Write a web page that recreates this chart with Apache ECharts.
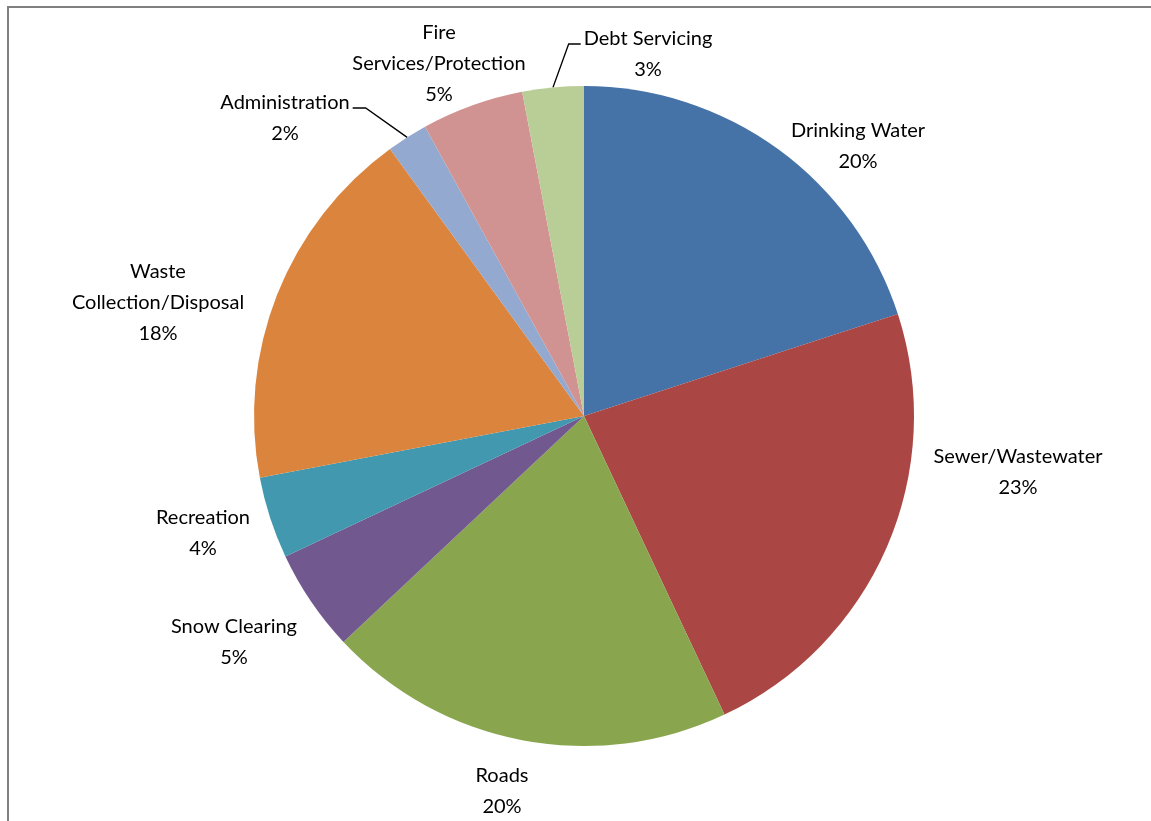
<!DOCTYPE html>
<html>
<head>
<meta charset="utf-8">
<title>Expenditure by Service</title>
<script src="https://cdn.jsdelivr.net/npm/echarts@6/dist/echarts.min.js"></script>
<style>
  html, body { margin: 0; padding: 0; background: #ffffff; }
  #chart { width: 1151px; height: 821px; }
</style>
</head>
<body>
<div id="chart"></div>
<script>
// Service categories, clockwise from 12 o'clock
const categories = [
  'Drinking Water',
  'Sewer/Wastewater',
  'Roads',
  'Snow Clearing',
  'Recreation',
  'Waste Collection/Disposal',
  'Administration',
  'Fire Services/Protection',
  'Debt Servicing'
];

// Share of spending, percent
const shares = [20, 23, 20, 5, 4, 18, 2, 5, 3];

// Label text with line breaks where the name wraps
const labelNames = [
  'Drinking Water',
  'Sewer/Wastewater',
  'Roads',
  'Snow Clearing',
  'Recreation',
  'Waste\nCollection/Disposal',
  'Administration',
  'Fire\nServices/Protection',
  'Debt Servicing'
];

const sliceColors = [
  '#4572A7', '#AA4643', '#89A54E', '#71588F', '#4198AF',
  '#DB843D', '#93A9CF', '#D19392', '#B9CD96'
];

// Label block centres (pixels)
const labelCentres = [
  [858, 146], [1018, 472], [502, 791], [234, 642], [203, 533],
  [158, 303], [285, 118], [439, 64], [648, 54]
];

// Slices whose labels are joined to the pie by a leader line
const leaderSlices = ['Administration', 'Debt Servicing'];

const chart = echarts.init(document.getElementById('chart'), null, { renderer: 'canvas' });

function sliceAnchor(idx) {
  const lay = chart.getModel().getSeriesByIndex(0).getData().getItemLayout(idx);
  const mid = (lay.startAngle + lay.endAngle) / 2;
  return [lay.cx + lay.r * Math.cos(mid), lay.cy + lay.r * Math.sin(mid)];
}

const option = {
  backgroundColor: '#ffffff',
  animation: false,
  graphic: [{
    type: 'rect',
    shape: { x: 8, y: 7, width: 1300, height: 1000 },
    style: { fill: 'none', stroke: '#808080', lineWidth: 2 },
    silent: true
  }],
  series: [{
    type: 'pie',
    center: [584, 416],
    radius: 330,
    startAngle: 90,
    clockwise: true,
    percentPrecision: 0,
    avoidLabelOverlap: false,
    itemStyle: { borderWidth: 0 },
    label: {
      show: true,
      position: 'outside',
      color: '#000000',
      fontFamily: 'Lato, "Open Sans", sans-serif',
      fontSize: 20,
      lineHeight: 31,
      align: 'center',
      formatter: p => labelNames[p.dataIndex] + '\n' + p.percent + '%'
    },
    labelLine: { show: false, lineStyle: { color: '#000000', width: 1.3 } },
    labelLayout: function (params) {
      const i = params.dataIndex;
      const c = labelCentres[i];
      const out = { x: c[0], y: c[1], align: 'center', verticalAlign: 'middle' };
      const name = categories[i];
      if (leaderSlices.indexOf(name) >= 0) {
        const a = sliceAnchor(i);
        const w = params.labelRect.width;
        const h = params.labelRect.height;
        const lineY = c[1] - h / 2 + 21;
        if (a[0] > c[0] + w / 2) {
          // label sits left of the slice
          const endX = c[0] + w / 2 + 3;
          out.labelLinePoints = [[endX, lineY], [endX + 13, lineY], a];
        } else {
          // label sits right of the slice
          const endX = c[0] - w / 2 - 3;
          out.labelLinePoints = [[endX, lineY], [endX - 12, lineY], a];
        }
      }
      return out;
    },
    data: categories.map((name, i) => ({
      name: name,
      value: shares[i],
      itemStyle: { color: sliceColors[i] },
      labelLine: { show: leaderSlices.indexOf(name) >= 0 }
    }))
  }]
};

chart.setOption(option);
</script>
</body>
</html>
